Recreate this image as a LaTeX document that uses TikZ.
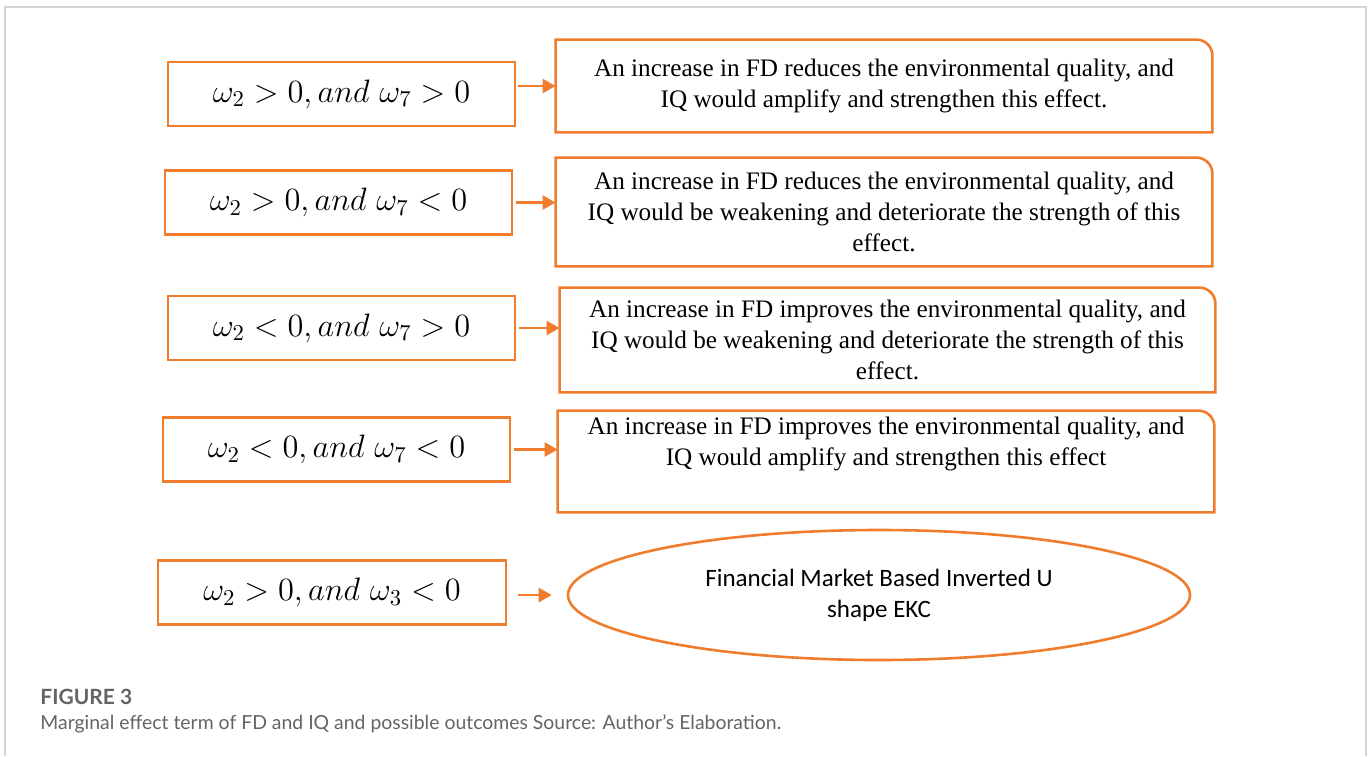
\documentclass[tikz,border=0pt]{standalone}
\usepackage{fix-cm}
\usepackage{fontspec}
\usepackage{amsmath}
\usetikzlibrary{arrows.meta,shapes.geometric}
\newfontfamily\timesfont{Liberation Serif}
\newfontfamily\calibrifont{Carlito}
\newfontfamily\capfont{Lato}
\definecolor{orng}{RGB}{240,125,45}
\definecolor{capgray}{RGB}{100,100,100}
\definecolor{framegray}{RGB}{212,212,212}
% outline with only the top right corner rounded
\newcommand{\outcomeline}[1]{\draw[draw=orng,line width=1.3pt] (#1.south west) -- (#1.north west) -- ([xshift=-8pt]#1.north east) arc[start angle=90,end angle=0,radius=8pt] -- (#1.south east) -- cycle;}

\begin{document}
\begin{tikzpicture}[x=0.5pt,y=-0.5pt]
\tikzset{cond/.style={draw=orng,line width=1.3pt,inner sep=0pt,minimum width=173.5pt,minimum height=32pt,font=\fontsize{16.2}{19}\selectfont}}
\tikzset{outcome/.style={inner sep=0pt,minimum width=328pt,align=center,font=\timesfont\fontsize{12.6}{15.5}\selectfont}}
\tikzset{link/.style={draw=orng,line width=1.3pt,-{Triangle[length=6.5pt,width=7pt]}}}
\useasboundingbox (0,0) rectangle (1370,756);

% frame
\draw[framegray,line width=1pt] (5,756) -- (5,7) -- (1366,7) -- (1366,756);

% conditions
\node[cond] (c1) at (341.5,94) {$\omega_2 > 0, and\ \omega_7 > 0$};
\node[cond] (c2) at (338.5,202.5) {$\omega_2 > 0, and\ \omega_7 < 0$};
\node[cond] (c3) at (341.5,328) {$\omega_2 < 0, and\ \omega_7 > 0$};
\node[cond] (c4) at (336.5,449.5) {$\omega_2 < 0, and\ \omega_7 < 0$};
\node[cond,minimum width=174pt] (c5) at (332,592.5) {$\omega_2 > 0, and\ \omega_3 < 0$};

% outcomes
\node[outcome,minimum height=46pt] (r1) at (884,86) {An increase in FD reduces the environmental quality, and\\IQ would amplify and strengthen this effect.};
\node[outcome,minimum height=54pt] (r2) at (884,212) {An increase in FD reduces the environmental quality, and\\IQ would be weakening and deteriorate the strength of this\\effect.};
\node[outcome,minimum height=52pt,minimum width=327.5pt] (r3) at (887.5,340) {An increase in FD improves the environmental quality, and\\IQ would be weakening and deteriorate the strength of this\\effect.};
\node[outcome,minimum height=50.5pt] (r4) at (886,461.5) {An increase in FD improves the environmental quality, and\\IQ would amplify and strengthen this effect\\\strut};
\outcomeline{r1}
\outcomeline{r2}
\outcomeline{r3}
\outcomeline{r4}

\node[ellipse,draw=orng,line width=1.3pt,inner sep=0pt,minimum width=311pt,minimum height=65pt,align=center,font=\calibrifont\fontsize{12.5}{15.5}\selectfont] (ekc) at (879,595) {Financial Market Based Inverted U\\shape EKC};

% arrows
\draw[link,shorten <=1pt] (c1.east |- r1.west) -- (r1.west);
\draw[link,shorten <=1.5pt] (c2.east) -- (c2.east -| r2.west);
\draw[link,shorten <=1.5pt] (c3.east) -- (c3.east -| r3.west);
\draw[link,shorten <=1.5pt] (c4.east) -- (c4.east -| r4.west);
\draw[link,shorten <=5.5pt,shorten >=7.5pt] (c5.east |- ekc.west) -- (ekc.west);

% caption
\node[anchor=base west,inner sep=0pt,text=capgray,font=\capfont\bfseries\fontsize{10.5}{12}\selectfont] (fig) at (40,704) {FIGURE 3};
\node[anchor=base west,inner sep=0pt,text=capgray,font=\capfont\fontsize{9.7}{11}\selectfont] (caption) at (40,729) {Marginal effect term of FD and IQ and possible outcomes Source: Author’s Elaboration.};
\end{tikzpicture}
\end{document}
